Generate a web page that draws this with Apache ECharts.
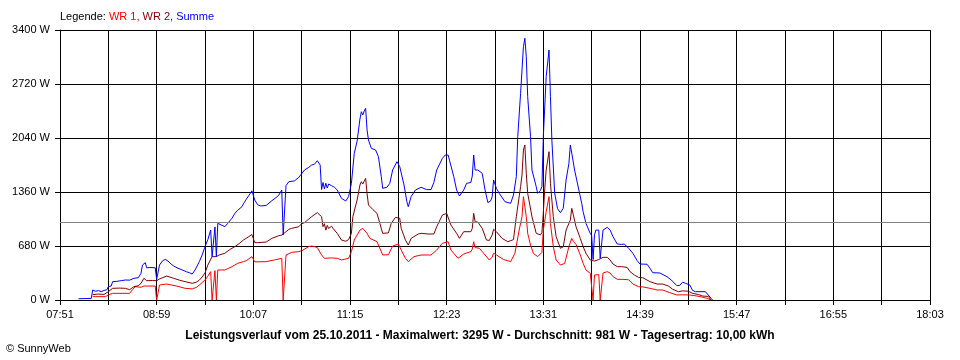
<!DOCTYPE html>
<html><head><meta charset="utf-8">
<script src="https://cdn.jsdelivr.net/npm/echarts@6/dist/echarts.min.js"></script>
<style>html,body{margin:0;padding:0;background:#fff}#c{width:960px;height:360px}</style>
</head><body><div id="c"></div>
<script>
// ---- data ----
const xTickLabels = ["07:51","08:59","10:07","11:15","12:23","13:31","14:39","15:47","16:55","18:03"];
const yMax = 3400, yStep = 680;
const average = 981;

const sumTimes = ["08:04","08:08","08:13","08:14","08:16","08:18","08:20","08:22","08:24","08:25","08:27","08:28","08:31","08:34","08:37","08:40","08:41","08:43","08:46","08:48","08:49","08:51","08:52","08:55","08:58","08:59","09:00","09:01","09:03","09:05","09:07","09:09","09:11","09:14","09:17","09:20","09:22","09:24","09:26","09:29","09:31","09:33","09:35","09:37","09:38","09:39","09:40","09:41","09:42","09:43","09:45","09:47","09:49","09:52","09:54","09:56","09:59","10:00","10:02","10:04","10:06","10:08","10:10","10:12","10:16","10:20","10:23","10:25","10:27","10:28","10:29","10:30","10:32","10:36","10:39","10:41","10:43","10:46","10:48","10:50","10:52","10:54","10:55","10:56","10:57","10:58","10:59","11:00","11:02","11:04","11:06","11:09","11:12","11:14","11:16","11:18","11:20","11:21","11:22","11:23","11:24","11:25","11:26","11:27","11:28","11:30","11:33","11:35","11:37","11:38","11:41","11:43","11:45","11:48","11:50","11:53","11:55","11:56","11:58","12:01","12:05","12:09","12:12","12:14","12:16","12:20","12:22","12:24","12:25","12:28","12:30","12:32","12:35","12:37","12:40","12:41","12:42","12:43","12:45","12:48","12:50","12:52","12:54","12:55","12:56","12:58","13:00","13:04","13:08","13:10","13:12","13:13","13:15","13:16","13:17","13:18","13:19","13:20","13:22","13:23","13:26","13:27","13:29","13:30","13:31","13:33","13:34","13:35","13:36","13:37","13:39","13:41","13:43","13:45","13:47","13:49","13:50","13:51","13:53","13:56","13:58","13:59","14:01","14:04","14:05","14:06","14:07","14:08","14:10","14:11","14:12","14:13","14:16","14:18","14:20","14:23","14:26","14:28","14:31","14:34","14:37","14:39","14:44","14:46","14:48","14:53","14:58","15:01","15:05","15:07","15:09","15:11","15:14","15:16","15:18","15:25","15:27","15:29","15:30"];
const summe = [15,18,20,126,110,118,105,120,130,168,176,230,235,243,252,250,225,273,280,336,440,470,405,410,405,260,260,440,490,512,490,455,428,400,378,355,344,327,378,483,567,672,760,881,546,546,920,546,965,950,940,923,965,1030,1091,1130,1175,1210,1268,1320,1375,1259,1200,1184,1190,1250,1290,1322,1385,818,818,1440,1490,1500,1545,1590,1637,1670,1700,1710,1754,1700,1390,1480,1400,1470,1410,1460,1440,1420,1385,1280,1247,1301,1469,1847,2000,2141,2280,2371,2330,2380,2414,2141,2015,1910,1889,1805,1553,1406,1420,1469,1637,1742,1679,1448,1238,1175,1301,1385,1419,1390,1390,1480,1637,1784,1826,1826,1760,1553,1385,1310,1385,1469,1480,1560,1826,1637,1637,1595,1385,1226,1250,1300,1511,1406,1343,1238,1217,1322,1553,2057,2602,2620,3190,3295,3064,2560,2057,1637,1427,1343,1380,1430,2057,2812,2790,3148,2560,2015,1343,1150,1100,1154,1511,1721,1952,1850,1637,1385,1217,1112,965,839,810,510,820,881,880,525,525,881,915,881,798,705,700,705,651,588,495,453,450,399,344,340,294,252,180,185,225,210,190,120,105,105,63,21,0];

const wr2Times = ["08:14","08:18","08:22","08:25","08:28","08:33","08:37","08:40","08:43","08:46","08:48","08:50","08:52","08:56","08:59","09:01","09:06","09:11","09:15","09:19","09:24","09:27","09:29","09:31","09:33","09:35","09:38","09:41","09:43","09:47","09:50","09:54","09:57","10:00","10:04","10:06","10:08","10:10","10:16","10:20","10:25","10:27","10:30","10:32","10:34","10:39","10:41","10:43","10:46","10:48","10:52","10:53","10:55","10:56","10:57","10:58","10:59","11:00","11:02","11:03","11:06","11:09","11:12","11:14","11:16","11:17","11:20","11:22","11:23","11:24","11:26","11:27","11:28","11:31","11:34","11:36","11:38","11:42","11:44","11:47","11:50","11:51","11:54","11:56","11:58","12:03","12:05","12:10","12:14","12:16","12:20","12:23","12:24","12:26","12:30","12:32","12:35","12:40","12:41","12:42","12:43","12:45","12:48","12:51","12:53","12:55","12:56","12:58","13:02","13:06","13:10","13:12","13:15","13:16","13:17","13:18","13:19","13:20","13:23","13:26","13:29","13:30","13:31","13:32","13:33","13:34","13:35","13:36","13:38","13:40","13:43","13:45","13:47","13:50","13:51","13:52","13:54","13:57","13:59","14:01","14:04","14:07","14:10","14:13","14:16","14:18","14:20","14:23","14:26","14:30","14:32","14:35","14:38","14:41","14:46","14:51","14:55","14:59","15:02","15:06","15:09","15:13","15:16","15:20","15:23","15:27","15:29"];
const wr2 = [67,75,70,105,147,150,147,130,168,180,210,273,243,245,243,265,302,273,250,231,210,225,250,290,340,440,546,546,567,588,630,672,710,755,800,825,722,722,730,776,810,818,860,890,902,923,960,974,1020,1049,1100,1112,1049,923,960,880,940,900,930,902,839,755,740,760,839,1049,1259,1448,1490,1460,1532,1343,1196,1141,1091,965,839,845,965,1041,1030,902,755,692,776,831,840,831,831,923,1070,1091,1080,944,839,776,860,860,900,1091,986,980,902,755,750,820,890,860,776,734,760,1049,1427,1574,1889,1952,1595,1343,1049,839,820,850,1100,1400,1637,1620,1868,1469,1049,798,651,670,881,1007,1154,1080,923,776,672,588,504,490,510,537,537,504,453,420,420,410,357,315,285,280,231,201,201,176,134,105,115,110,84,70,50,45,0];

const wr1Times = ["08:14","08:23","08:25","08:28","08:40","08:42","08:44","08:48","08:50","08:58","08:59","09:00","09:01","09:06","09:13","09:19","09:24","09:27","09:29","09:31","09:33","09:35","09:37","09:38","09:39","09:40","09:41","09:42","09:47","09:52","09:56","10:00","10:02","10:06","10:08","10:09","10:16","10:22","10:27","10:28","10:29","10:30","10:34","10:39","10:41","10:46","10:48","10:50","10:52","10:55","10:57","11:02","11:06","11:09","11:14","11:16","11:18","11:22","11:24","11:27","11:29","11:34","11:36","11:38","11:42","11:45","11:49","11:51","11:54","11:56","12:00","12:05","12:12","12:16","12:20","12:24","12:26","12:31","12:35","12:40","12:41","12:42","12:43","12:46","12:50","12:53","12:55","12:56","12:58","13:03","13:08","13:11","13:14","13:16","13:17","13:18","13:19","13:20","13:22","13:24","13:27","13:30","13:31","13:33","13:34","13:35","13:36","13:38","13:40","13:43","13:46","13:49","13:51","13:52","13:54","13:57","13:59","14:01","14:04","14:05","14:06","14:07","14:10","14:11","14:12","14:13","14:16","14:18","14:20","14:23","14:27","14:31","14:34","14:38","14:41","14:46","14:51","14:55","15:00","15:05","15:09","15:14","15:19","15:22","15:26","15:29"];
const wr1 = [42,42,63,84,84,130,168,160,176,176,0,0,189,201,176,147,140,160,189,220,252,300,357,0,0,370,0,378,378,420,462,483,495,546,480,470,483,505,525,0,0,567,600,609,620,672,680,672,660,567,525,530,525,504,525,609,755,881,902,839,776,734,651,567,570,680,705,630,525,483,546,567,567,630,714,734,630,525,579,609,640,734,660,651,567,504,540,590,567,510,483,588,881,1049,1301,1301,1049,839,692,588,546,600,881,1112,1112,1301,965,672,504,440,460,672,776,740,700,567,462,378,336,330,0,315,320,0,0,340,357,340,294,260,260,255,201,168,165,147,126,126,92,63,66,63,50,40,21,0];

// ---- build ----
const START = 7 * 60 + 51;
function toMin(s) { const p = s.split(":"); return +p[0] * 60 + +p[1] - START; }
function pairs(times, vals) { return times.map((t, i) => [toMin(t), vals[i]]); }
function fmt(m) { const t = START + m; const h = Math.floor(t / 60), mm = t % 60; return (h < 10 ? "0" : "") + h + ":" + (mm < 10 ? "0" : "") + mm; }
const xSpan = toMin(xTickLabels[xTickLabels.length - 1]);
const labelStep = toMin(xTickLabels[1]);

const font = "'Liberation Sans', Arial, sans-serif";
const chart = echarts.init(document.getElementById('c'), null, { renderer: 'canvas' });
chart.setOption({
  animation: false,
  backgroundColor: '#ffffff',
  title: [
    { left: 60, top: 11, padding: 0,
      text: '{k|Legende: }{a|WR 1, }{b|WR 2, }{c|Summe}',
      textStyle: { fontFamily: font, fontSize: 11, fontWeight: 'normal',
        rich: { k: { color: '#000', fontFamily: font, fontSize: 11 }, a: { color: '#ff0000', fontFamily: font, fontSize: 11 },
                b: { color: '#800000', fontFamily: font, fontSize: 11 }, c: { color: '#0000ff', fontFamily: font, fontSize: 11 } } } },
    { left: 'center', top: 330, padding: 0,
      text: 'Leistungsverlauf vom 25.10.2011 - Maximalwert: 3295 W - Durchschnitt: 981 W - Tagesertrag: 10,00 kWh',
      textStyle: { fontFamily: font, fontSize: 12, fontWeight: 'bold', color: '#000' } },
    { left: 6, top: 343, padding: 0, text: '© SunnyWeb',
      textStyle: { fontFamily: font, fontSize: 11, fontWeight: 'normal', color: '#000' } }
  ],
  grid: { left: 60, right: 30, top: 30, bottom: 60, containLabel: false },
  xAxis: {
    type: 'value', min: 0, max: xSpan, interval: labelStep / 2,
    axisLine: { lineStyle: { color: '#000', width: 1 } },
    axisTick: { show: true, length: 5, lineStyle: { color: '#000' } },
    axisLabel: { margin: 9, color: '#000', fontFamily: font, fontSize: 11,
      formatter: v => (v % labelStep === 0 ? fmt(v) : ''), showMinLabel: true, showMaxLabel: true },
    splitLine: { show: true, lineStyle: { color: '#000', width: 1 } }
  },
  yAxis: {
    type: 'value', min: 0, max: yMax, interval: yStep,
    axisLine: { show: true, lineStyle: { color: '#000', width: 1 } },
    axisTick: { show: true, length: 5, lineStyle: { color: '#000' } },
    axisLabel: { margin: 10, color: '#000', fontFamily: font, fontSize: 11, formatter: v => v + ' W' },
    splitLine: { show: true, lineStyle: { color: '#000', width: 1 } }
  },
  series: [
    { name: 'WR 1', type: 'line', data: pairs(wr1Times, wr1), showSymbol: false, symbol: 'none',
      lineStyle: { color: '#ff0000', width: 1 }, itemStyle: { color: '#ff0000' },
      markLine: { silent: true, symbol: 'none', label: { show: false },
        lineStyle: { color: '#808080', width: 1, type: 'solid' }, data: [{ yAxis: average }] } },
    { name: 'WR 2', type: 'line', data: pairs(wr2Times, wr2), showSymbol: false, symbol: 'none',
      lineStyle: { color: '#800000', width: 1 }, itemStyle: { color: '#800000' } },
    { name: 'Summe', type: 'line', data: pairs(sumTimes, summe), showSymbol: false, symbol: 'none',
      lineStyle: { color: '#0000ff', width: 1 }, itemStyle: { color: '#0000ff' } }
  ]
});
</script></body></html>
